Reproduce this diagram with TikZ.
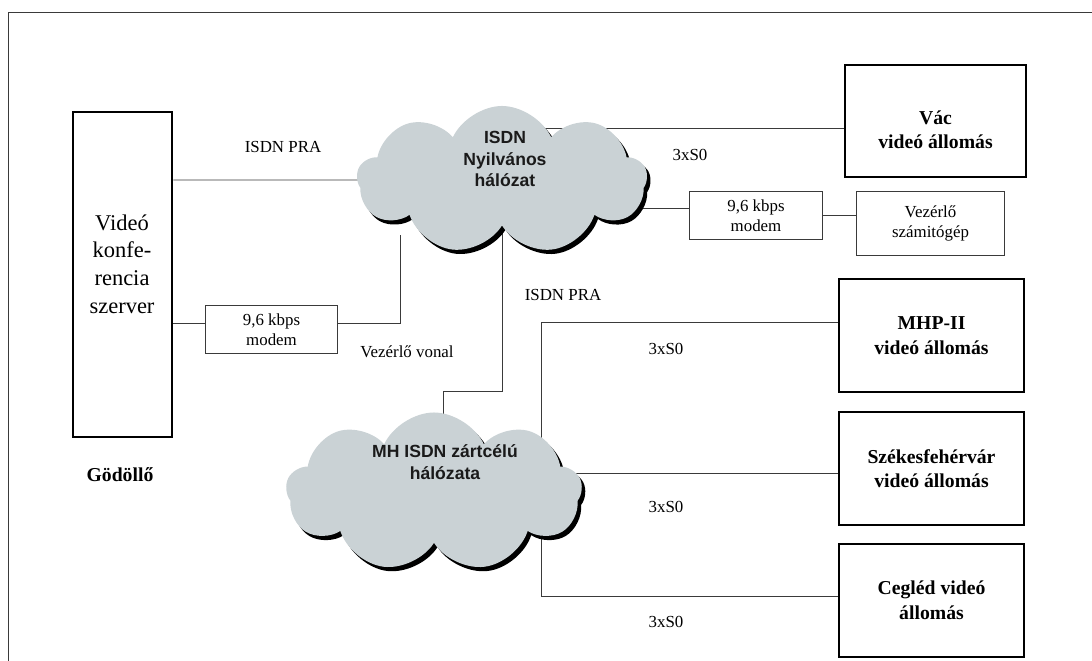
\documentclass[tikz,border=0pt]{standalone}
\usepackage{fontspec}
\setmainfont{Liberation Serif}
\setsansfont{Liberation Sans}
\usetikzlibrary{positioning, calc, shapes.symbols, shadows, backgrounds}

\begin{document}
\begin{tikzpicture}[
  x=0.025cm, y=-0.025cm,
  font=\fontsize{12}{14}\selectfont,
  wire/.style={draw=cwire, line width=0.7pt},
  stbox/.style={draw=black, line width=2pt, fill=white, align=center, inner sep=0pt,
    minimum width=4.625cm, minimum height=2.825cm, font=\fontsize{14}{17.5}\selectfont\bfseries},
  mdbox/.style={draw=cwire, line width=0.7pt, fill=white, align=center, inner sep=0pt,
    minimum width=3.3cm, minimum height=1.175cm, font=\fontsize{12}{14.2}\selectfont},
  cld/.style={cloud, cloud puffs=9, cloud puff arc=130, cloud ignores aspect,
    fill=ccloud, inner sep=0pt,
    drop shadow={shadow xshift=2.5pt, shadow yshift=-3pt, fill=black, opacity=1}},
  cldtxt/.style={align=center, text=ctext, font=\sffamily\bfseries\fontsize{12.5}{15.2}\selectfont},
  lbl/.style={inner sep=1pt},
]
\definecolor{cwire}{HTML}{3A3A3A}    % thin lines
\definecolor{ccloud}{HTML}{CAD2D5}   % cloud fill
\definecolor{ctext}{HTML}{1A1A1A}    % cloud text

\useasboundingbox (0,0) rectangle (1092,661);

% page frame
\draw[cwire, line width=0.7pt] (8,661) -- (8,12) -- (1092,12);

% =====================================================================
% Gödöllő side
% =====================================================================
\node[draw=black, line width=2pt, inner sep=0pt,
      minimum width=2.475cm, minimum height=8.125cm] (srv) at (122.5,274.5) {};
\node[align=center, font=\fontsize{16}{19.6}\selectfont] (srvlbl) at (122,264)
  {Videó\\konfe-\\rencia\\szerver};
\node[font=\fontsize{14}{17}\selectfont\bfseries] (god) at (120,475) {Gödöllő};

\node[mdbox, minimum width=3.275cm] (mdA) at (271.5,329.5) {9,6 kbps\\modem};

% =====================================================================
% clouds
% =====================================================================
\node[cld, minimum width=7.25cm, minimum height=3.7cm] (cldA) at (502,180) {};
\node[cldtxt] (cldAtxt) at (505,159) {ISDN\\Nyilvános\\hálózat};

\node[cld, minimum width=7.4cm, minimum height=3.975cm] (cldB) at (434,492) {};
\node[cldtxt, font=\sffamily\bfseries\fontsize{12.5}{15.6}\selectfont] (cldBtxt) at (445,462)
  {MH ISDN zártcélú\\hálózata};

% =====================================================================
% stations
% =====================================================================
\node[stbox, minimum width=4.525cm, minimum height=2.8cm] (vac) at (935.5,121)
  {\rule{0pt}{22pt}Vác\\videó állomás};
\node[mdbox] (mdB) at (756,215.5) {9,6 kbps\\modem};
\node[mdbox, minimum width=3.675cm, minimum height=1.575cm] (vez) at (930.5,223.5)
  {Vezérlő\\számitógép};

\node[stbox] (mhp)  at (931.5,335.5) {MHP-II\\videó állomás};
\node[stbox] (szek) at (931.5,468.5) {Székesfehérvár\\videó állomás};
\node[stbox] (ceg)  at (931.5,600.5) {Cegléd videó\\állomás};

% labels
\node[lbl] (praA) at (283,147) {ISDN PRA};
\node[lbl] (praB) at (563,295) {ISDN PRA};
\node[lbl] (vonal) at (407,352) {Vezérlő vonal};
\node[lbl] (s0A) at (690,155) {3xS0};
\node[lbl] (s0B) at (666,349) {3xS0};
\node[lbl] (s0C) at (666,507) {3xS0};
\node[lbl] (s0D) at (666,622) {3xS0};

% =====================================================================
% connectors (under the clouds)
% =====================================================================
\coordinate (tapA) at (400,235);
\coordinate (kink) at (443,391);
\coordinate (tapB) at (541,480);
\coordinate (mA) at ([yshift=4.6pt]mdA.west);
\coordinate (vA) at ([yshift=-5pt]vac.west);
\coordinate (mB) at ([yshift=5.3pt]mdB.west);
\coordinate (sB) at ([yshift=-3.2pt]szek.west);

\begin{scope}[on background layer]
  \draw[wire] (srv.east |- cldA.west) -- (cldA.center);
  \draw[wire] (srv.east |- mA) -- (mA);
  \draw[wire] ([yshift=4.6pt]mdA.east) -| (tapA);
  \draw[wire] (cldA.south) |- (kink) -- (kink |- cldB.center);

  \draw[wire] (vA) -- (vA -| cldA.center);
  \draw[wire] (mB) -- (mB -| cldA.center);
  \draw[wire] (mdB.east) -- (mdB.east -| vez.west);

  \draw[wire] ([yshift=8.9pt]mhp.west) -| (tapB);
  \draw[wire] (sB) -- (sB -| cldB.center);
  \draw[wire] ([yshift=2.5pt]ceg.west) -| (tapB);
\end{scope}

\end{tikzpicture}
\end{document}
